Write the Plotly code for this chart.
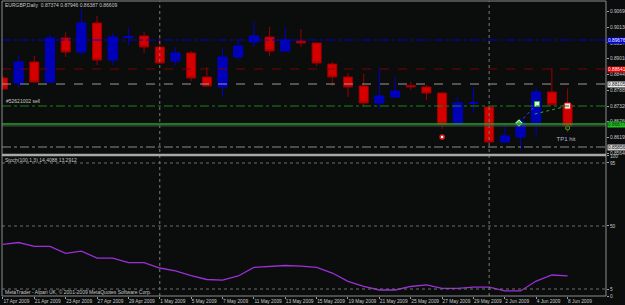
import plotly.graph_objects as go

# ---------------- data ----------------
dates = ["17 Apr 2009", "20 Apr 2009", "21 Apr 2009", "22 Apr 2009", "23 Apr 2009", "24 Apr 2009",
         "27 Apr 2009", "28 Apr 2009", "29 Apr 2009", "30 Apr 2009", "1 May 2009", "4 May 2009",
         "5 May 2009", "6 May 2009", "7 May 2009", "8 May 2009", "11 May 2009", "12 May 2009",
         "13 May 2009", "14 May 2009", "15 May 2009", "18 May 2009", "19 May 2009", "20 May 2009",
         "21 May 2009", "22 May 2009", "25 May 2009", "26 May 2009", "27 May 2009", "28 May 2009",
         "29 May 2009", "1 Jun 2009", "2 Jun 2009", "3 Jun 2009", "4 Jun 2009", "5 Jun 2009", "8 Jun 2009"]

open_ = [0.88320, 0.88141, 0.88891, 0.88177, 0.89748, 0.89248, 0.90283, 0.88962, 0.89765, 0.89819,
         0.89426, 0.88927, 0.89212, 0.88355, 0.87998, 0.89069, 0.89605, 0.89783, 0.89284, 0.89641,
         0.89569, 0.88819, 0.88355, 0.88034, 0.87427, 0.87641, 0.88052, 0.87998, 0.87784, 0.86677,
         0.87409, 0.87284, 0.86035, 0.86213, 0.86713, 0.87820, 0.87374]
high = [0.88391, 0.89141, 0.89105, 0.89855, 0.89962, 0.90783, 0.90533, 0.89926, 0.90140, 0.89962,
        0.89819, 0.89426, 0.89284, 0.88712, 0.89355, 0.89676, 0.90319, 0.90140, 0.90140, 0.90069,
        0.89569, 0.88891, 0.88498, 0.88462, 0.88677, 0.88355, 0.88177, 0.88070, 0.87820, 0.87641,
        0.87998, 0.87320, 0.86677, 0.86892, 0.87998, 0.88677, 0.87946]
low = [0.87891, 0.87963, 0.88141, 0.88141, 0.89069, 0.89141, 0.88784, 0.88784, 0.89498, 0.89212,
       0.88819, 0.88784, 0.88213, 0.87998, 0.87641, 0.88962, 0.89426, 0.89105, 0.89248, 0.89426,
       0.88748, 0.88034, 0.87641, 0.87320, 0.87213, 0.87641, 0.87891, 0.87534, 0.86499, 0.86677,
       0.87070, 0.85999, 0.86035, 0.85749, 0.86213, 0.87356, 0.86387]
close = [0.87927, 0.88891, 0.88177, 0.89748, 0.89248, 0.90283, 0.88962, 0.89783, 0.89801, 0.89426,
         0.88855, 0.89212, 0.88320, 0.88034, 0.89069, 0.89462, 0.89819, 0.89284, 0.89676, 0.89569,
         0.88855, 0.88355, 0.87998, 0.87427, 0.87677, 0.87856, 0.87998, 0.87784, 0.86677, 0.87427,
         0.87427, 0.86035, 0.86249, 0.86749, 0.87820, 0.87370, 0.86609]

stoch = [36.8, 38.2, 35.4, 35.4, 30.4, 32.1, 27.1, 27.1, 23.9, 23.9, 20.0, 17.9, 14.6, 11.8, 11.4,
         14.3, 20.4, 21.1, 21.8, 21.4, 20.4, 16.4, 10.4, 6.8, 4.3, 4.3, 6.8, 7.9, 5.5, 5.5, 6.4, 6.4,
         3.6, 3.6, 10.7, 15.0, 14.4]

price_ticks = [0.90690, 0.90130, 0.89570, 0.89010, 0.88445, 0.87885, 0.87320, 0.86760, 0.86195, 0.85640]
price_tick_labels = ["0.90690", "0.90130", "0.89570", "0.89010", "0.88445", "0.87885", "0.87320",
                     "0.86760", "0.86195", "0.85640"]
stoch_ticks = [100, 95, 50, 5, 0]
stoch_tick_labels = ["100", "95", "50", "5", "0"]
stoch_levels = [95, 50, 5]

# horizontal price lines
level_prices = [0.89676, 0.88641, 0.88105, 0.87320, 0.86677, 0.86609, 0.85856]
level_colors = ["#0000d8", "#7a0000", "#9a9a9a", "#1f7f1f", "#22a522", "#505050", "#8a8a8a"]
level_dashes = ["dashdot", "dash", "dash", "dashdot", "solid", "solid", "dashdot"]
level_widths = [1, 1, 1, 1, 1.5, 1, 1]
label_prices = [0.89676, 0.88641, 0.88105, 0.86677, 0.85856]
label_bg = ["#0000e0", "#e00000", "#e8e8e8", "#22c022", "#d0d0d0"]
label_fg = ["#ffffff", "#ffffff", "#202020", "#102010", "#202020"]

# trade markers (bar index, price)
entry_x, entry_y = [32.9], [0.86713]
mark4_x, mark4_y = [34.05], [0.87391]
exit_x, exit_y = [36.0], [0.87320]
red0_x, red0_y = [28.0], [0.86213]
green_small_x, green_small_y = [36.0], [0.86535]
tp_x, tp_y = [35.9], [0.86142]
green_dot_x, green_dot_y = [33.9, 36.0], [0.87034, 0.87320]

xi = list(range(len(dates)))

BG = "#0b0c0c"
TXT = "#c8c8c8"
FONT = "Liberation Sans"

fig = go.Figure()
fig.add_trace(go.Candlestick(
    x=xi, open=open_, high=high, low=low, close=close,
    increasing=dict(line=dict(color="#0000c8", width=1), fillcolor="#0000b8"),
    decreasing=dict(line=dict(color="#9a0000", width=1), fillcolor="#d40000"),
    xaxis="x", yaxis="y", hoverinfo="skip", showlegend=False))

fig.add_trace(go.Scatter(x=xi, y=stoch, mode="lines", line=dict(color="#9b30d6", width=1.3),
                         xaxis="x", yaxis="y2", hoverinfo="skip", showlegend=False))

# trade lines & markers
fig.add_trace(go.Scatter(x=entry_x + mark4_x, y=entry_y + mark4_y, mode="lines",
                         line=dict(color="#3050ff", width=1, dash="dot"),
                         xaxis="x", yaxis="y", hoverinfo="skip", showlegend=False))
fig.add_trace(go.Scatter(x=green_dot_x, y=green_dot_y, mode="lines",
                         line=dict(color="#20b020", width=1, dash="dot"),
                         xaxis="x", yaxis="y", hoverinfo="skip", showlegend=False))
fig.add_trace(go.Scatter(x=entry_x, y=entry_y, mode="markers",
                         marker=dict(symbol="diamond", size=5, color="#30e030",
                                     line=dict(color="#ffffff", width=1)),
                         xaxis="x", yaxis="y", hoverinfo="skip", showlegend=False))
fig.add_trace(go.Scatter(x=mark4_x, y=mark4_y, mode="markers",
                         marker=dict(symbol="square", size=5, color="#e8ffe8",
                                     line=dict(color="#20c020", width=1)),
                         xaxis="x", yaxis="y", hoverinfo="skip", showlegend=False))
fig.add_trace(go.Scatter(x=exit_x, y=exit_y, mode="markers",
                         marker=dict(symbol="square", size=6, color="#ffe8e8",
                                     line=dict(color="#e02020", width=1)),
                         xaxis="x", yaxis="y", hoverinfo="skip", showlegend=False))
fig.add_trace(go.Scatter(x=red0_x, y=red0_y, mode="markers",
                         marker=dict(symbol="circle", size=4, color="#ffffff",
                                     line=dict(color="#e02020", width=1.5)),
                         xaxis="x", yaxis="y", hoverinfo="skip", showlegend=False))
fig.add_trace(go.Scatter(x=green_small_x, y=green_small_y, mode="markers",
                         marker=dict(symbol="circle-open", size=4, color="#20c020",
                                     line=dict(width=1)),
                         xaxis="x", yaxis="y", hoverinfo="skip", showlegend=False))
fig.add_trace(go.Scatter(x=tp_x, y=tp_y, mode="text", text=["TP1 hit"],
                         textfont=dict(family=FONT, size=6, color="#b0b8d0"),
                         xaxis="x", yaxis="y", hoverinfo="skip", showlegend=False))

# ---------------- layout ----------------
shapes = []
# month separators
for i in range(1, len(dates)):
    if dates[i].split()[1] != dates[i - 1].split()[1]:
        shapes.append(dict(type="line", xref="x", yref="paper", x0=xi[i], x1=xi[i], y0=0, y1=1,
                           line=dict(color="#7a7a7a", width=1, dash="dot")))
for p, c, d, w in zip(level_prices, level_colors, level_dashes, level_widths):
    shapes.append(dict(type="line", xref="paper", yref="y", x0=0, x1=1, y0=p, y1=p,
                       line=dict(color=c, width=w, dash=d)))
for lv in stoch_levels:
    shapes.append(dict(type="line", xref="paper", yref="y2", x0=0, x1=1, y0=lv, y1=lv,
                       line=dict(color="#6e6e6e", width=1, dash="dot")))
# frame and pane separator
shapes.append(dict(type="rect", xref="paper", yref="paper", x0=0, x1=1, y0=0, y1=1,
                   line=dict(color="#8c8c8c", width=1)))
shapes.append(dict(type="line", xref="paper", yref="paper", x0=0, x1=1, y0=0.478, y1=0.478,
                   line=dict(color="#a8a8a8", width=2.5)))

annotations = []
for p, bg, fg in zip(label_prices, label_bg, label_fg):
    annotations.append(dict(xref="paper", yref="y", x=1, y=p, xanchor="left", yanchor="middle",
                            text=f"{p:.5f}", showarrow=False, bgcolor=bg, borderpad=0,
                            font=dict(family=FONT, size=4.8, color=fg), xshift=1))
annotations += [
    dict(xref="paper", yref="paper", x=0.0017, y=0.9864, xanchor="left", yanchor="middle",
         text="EURGBP,Daily  0.87374 0.87946 0.86387 0.86609", showarrow=False,
         font=dict(family=FONT, size=5, color=TXT)),
    dict(xref="paper", yref="y", x=0.003, y=0.87320, xanchor="left", yanchor="bottom",
         text="#52621002 sell", showarrow=False, font=dict(family=FONT, size=5, color=TXT)),
    dict(xref="paper", yref="paper", x=0.0017, y=0.461, xanchor="left", yanchor="middle",
         text="Stoch(100,1,3) 14.4088 13.2912", showarrow=False,
         font=dict(family=FONT, size=5, color=TXT)),
    dict(xref="paper", yref="paper", x=0.0017, y=0.0119, xanchor="left", yanchor="middle",
         text="MetaTrader - Alpari UK, © 2001-2009 MetaQuotes Software Corp.", showarrow=False,
         font=dict(family=FONT, size=5, color=TXT)),
]

fig.update_layout(
    width=625, height=305,
    margin=dict(l=2, r=19, t=1, b=9, autoexpand=False),
    paper_bgcolor=BG, plot_bgcolor=BG,
    showlegend=False, hovermode=False,
    boxgap=0.17,
    shapes=shapes, annotations=annotations,
    xaxis=dict(domain=[0, 1], anchor="y2", range=[-0.06, 38.45],
               tickvals=xi[::2], ticktext=dates[::2], ticklabelposition="outside right",
               tickangle=0,
               ticks="outside", ticklen=2, tickcolor="#a0a0a0",
               tickfont=dict(family=FONT, size=4.8, color=TXT),
               showgrid=False, zeroline=False, showline=False,
               rangeslider=dict(visible=False), automargin=False),
    yaxis=dict(domain=[0.4814, 1], anchor="x", side="right", range=[0.85607, 0.91069],
               tickvals=price_ticks, ticktext=price_tick_labels,
               ticks="outside", ticklen=2, tickcolor="#a0a0a0",
               tickfont=dict(family=FONT, size=4.8, color=TXT),
               showgrid=False, zeroline=False, showline=False, automargin=False),
    yaxis2=dict(domain=[0, 0.4746], anchor="x", side="right", range=[0, 100],
                tickvals=stoch_ticks, ticktext=stoch_tick_labels,
                ticks="outside", ticklen=2, tickcolor="#a0a0a0",
                tickfont=dict(family=FONT, size=4.8, color=TXT),
                showgrid=False, zeroline=False, showline=False, automargin=False),
)

fig.write_html("out.html", config={"displayModeBar": False})
